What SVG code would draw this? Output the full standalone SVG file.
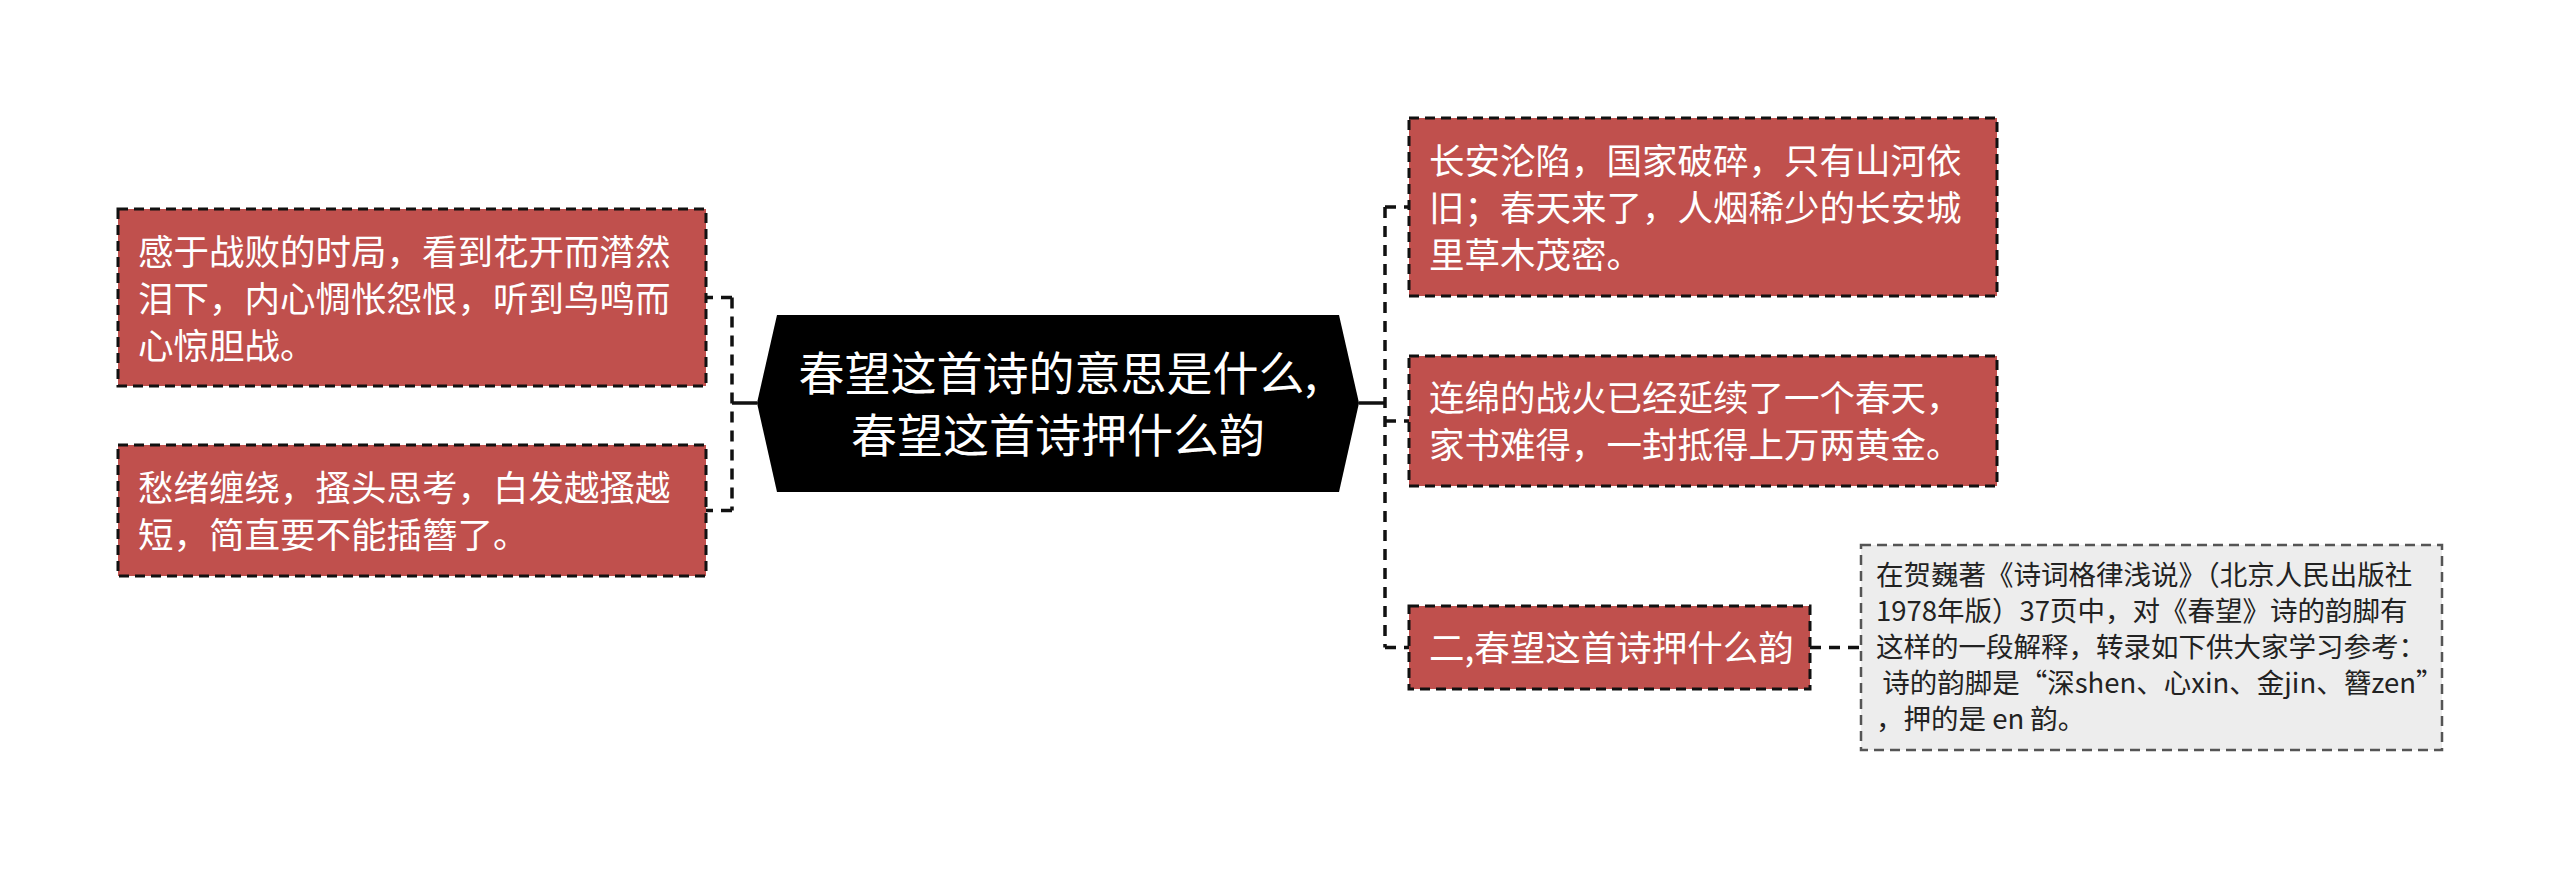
<svg xmlns="http://www.w3.org/2000/svg" width="2560" height="869" viewBox="0 0 2560 869">
<style>
.bg{fill:#ffffff}
.red{fill:#c0504d;stroke:#111;stroke-width:3;stroke-dasharray:10 6}
.note{fill:#ededed;stroke:#555;stroke-width:2.5;stroke-dasharray:10 6}
.t{font-family:"Noto Sans CJK SC","Noto Sans",sans-serif;fill:#ffffff;font-size:35.5px}
.tc{font-family:"Noto Sans CJK SC","Noto Sans",sans-serif;fill:#ffffff;font-size:46px;text-anchor:middle}
.tn{font-family:"Noto Sans CJK SC","Noto Sans",sans-serif;fill:#222;font-size:27.5px}
.dash{fill:none;stroke:#111;stroke-width:3.5;stroke-dasharray:11 8}
.solid{fill:none;stroke:#111;stroke-width:3.5}
</style>
<rect class="bg" x="0" y="0" width="2560" height="869"/>
<g id="connectors">
<path class="solid" d="M757,403 H732"/>
<path class="dash" d="M732,297.5 V510.5"/>
<path class="dash" d="M732,297.5 H706"/>
<path class="dash" d="M732,510.5 H706"/>
<path class="solid" d="M1359,403 H1385"/>
<path class="dash" d="M1385,207 V647.5"/>
<path class="dash" d="M1385,207 H1409"/>
<path class="dash" d="M1385,421 H1409"/>
<path class="dash" d="M1385,647.5 H1409"/>
<path class="dash" d="M1810,647.5 H1861"/>
</g>
<g id="center">
<polygon points="757,403 777,315 1339,315 1359,403 1339,492 777,492" fill="#000"/>
<text class="tc" x="1058" y="389.5">春望这首诗的意思是什么,</text>
<text class="tc" x="1058" y="451.5">春望这首诗押什么韵</text>
</g>
<g id="left1">
<rect class="red" x="118" y="209" width="588" height="177"/>
<text class="t" x="138" y="264.5">感于战败的时局，看到花开而潸然</text>
<text class="t" x="138" y="311.5">泪下，内心惆怅怨恨，听到鸟鸣而</text>
<text class="t" x="138" y="358.5">心惊胆战。</text>
</g>
<g id="left2">
<rect class="red" x="118" y="445" width="588" height="131"/>
<text class="t" x="138" y="500.5">愁绪缠绕，搔头思考，白发越搔越</text>
<text class="t" x="138" y="547.5">短，简直要不能插簪了。</text>
</g>
<g id="right1">
<rect class="red" x="1409" y="118" width="588" height="178"/>
<text class="t" x="1429" y="173.5">长安沦陷，国家破碎，只有山河依</text>
<text class="t" x="1429" y="220.5">旧；春天来了，人烟稀少的长安城</text>
<text class="t" x="1429" y="267.5">里草木茂密。</text>
</g>
<g id="right2">
<rect class="red" x="1409" y="356" width="588" height="130"/>
<text class="t" x="1429" y="411">连绵的战火已经延续了一个春天，</text>
<text class="t" x="1429" y="458">家书难得，一封抵得上万两黄金。</text>
</g>
<g id="right3">
<rect class="red" x="1409" y="606" width="401" height="83"/>
<text class="t" x="1429" y="661">二,春望这首诗押什么韵</text>
</g>
<g id="note">
<rect class="note" x="1861" y="545" width="581" height="205"/>
<text class="tn" x="1876" y="585">在贺巍著《诗词格律浅说》（北京人民出版社</text>
<text class="tn" x="1876" y="621">1978年版）37页中，对《春望》诗的韵脚有</text>
<text class="tn" x="1876" y="657">这样的一段解释，转录如下供大家学习参考：</text>
<text class="tn" x="1876" y="693" xml:space="preserve"> 诗的韵脚是“深shen、心xin、金jin、簪zen”</text>
<text class="tn" x="1876" y="729">，押的是 en 韵。</text>
</g>
</svg>
